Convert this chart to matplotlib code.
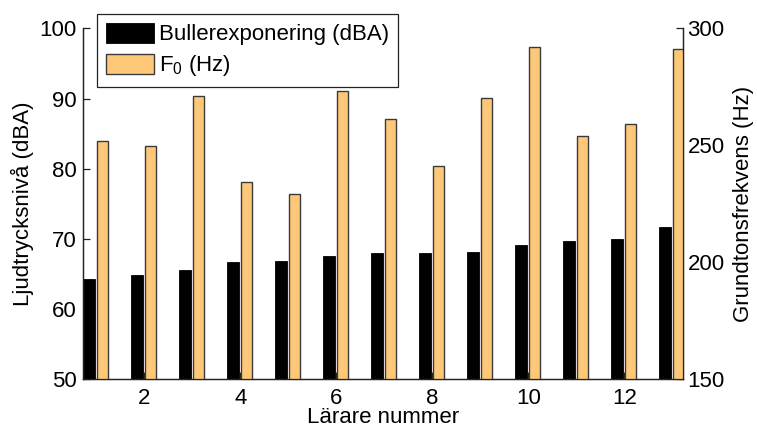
import matplotlib
matplotlib.use("Agg")
import matplotlib.pyplot as plt
import numpy as np

plt.rcParams['font.family'] = ['Liberation Sans', 'DejaVu Sans']
plt.rcParams['mathtext.default'] = 'regular'

# Teacher number and measured values
teachers = np.arange(1, 14)
noise_dba = [64.3, 64.8, 65.5, 66.7, 66.8, 67.5, 68.0, 68.0, 68.2, 69.2, 69.75, 70.0, 71.7]
f0_hz = [251.8, 249.8, 271.1, 234.2, 229.2, 273.2, 261.1, 241.3, 270.1, 292.1, 254.0, 259.0, 291.3]

x_ticks = [2, 4, 6, 8, 10, 12]
left_ticks = [50, 60, 70, 80, 90, 100]
right_ticks = [150, 200, 250, 300]

FS = 16
orange = '#FFC878'
edge = '#3a3a3a'

fig = plt.figure(figsize=(7.57, 4.30), dpi=100)
ax = fig.add_axes([0.110, 0.118, 0.7927, 0.816])
ax2 = ax.twinx()

bw_black = 0.25
bw_orange = 0.23
b1 = ax.bar(teachers - 0.145, noise_dba, width=bw_black, bottom=0,
            color='black', edgecolor='black', linewidth=0.6, zorder=2)
b2 = ax2.bar(teachers + 0.125, f0_hz, width=bw_orange, bottom=0,
             color=orange, edgecolor=edge, linewidth=1.0, zorder=2)

ax.set_xlim(0.73, 13.23)
ax.set_ylim(50, 100)
ax2.set_ylim(150, 300)

ax.set_xticks(x_ticks)
ax.set_yticks(left_ticks)
ax2.set_yticks(right_ticks)

for a in (ax, ax2):
    a.spines['top'].set_visible(False)
    for s in a.spines.values():
        s.set_color('#222222')
        s.set_linewidth(0.9)

ax.tick_params(axis='both', direction='in', length=5, width=0.9, labelsize=FS,
               color='#222222', pad=5)
ax.tick_params(axis='x', pad=6)
ax2.tick_params(axis='y', direction='in', length=5, width=0.9, labelsize=FS,
                color='#222222', pad=3)

ax.set_xlabel('Lärare nummer', fontsize=FS, labelpad=-1)
ax.set_ylabel('Ljudtrycksnivå (dBA)', fontsize=FS, labelpad=4)
ax2.set_ylabel('Grundtonsfrekvens (Hz)', fontsize=FS, labelpad=6)

leg = ax2.legend([b1, b2], ['Bullerexponering (dBA)', 'F$_0$ (Hz)'],
                 loc='upper left', bbox_to_anchor=(0.1277, 0.9674),
                 bbox_transform=fig.transFigure, borderaxespad=0,
                 fontsize=FS, fancybox=False, framealpha=1,
                 edgecolor='#222222', handlelength=2.2, handleheight=1.0,
                 handletextpad=0.2, labelspacing=0.35, borderpad=0.4)
leg.get_frame().set_linewidth(0.9)

fig.savefig('out.png', dpi=100)
